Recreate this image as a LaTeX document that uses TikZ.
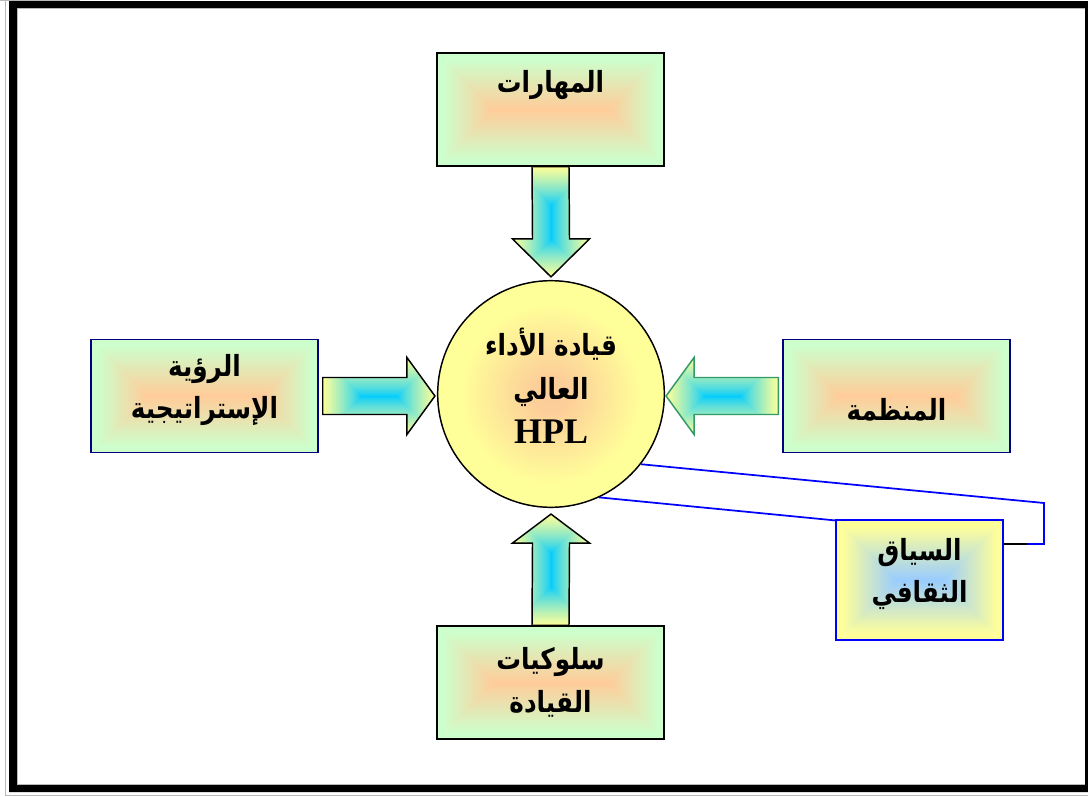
\documentclass[tikz,border=0pt]{standalone}
\usepackage{fontspec}
\usepackage{graphicx}
\usetikzlibrary{calc}
\TeXXeTstate=1
\newfontfamily\arabicfont[Script=Arabic]{DejaVu Sans}
\newfontfamily\latinserif{Liberation Serif}

% Rectangular "from centre" gradient: contours are insets of the bounding box.
% #1 name, #2/#3 half width/height relative to the smaller one,
% #4-#6 inner rgb, #7-#9 outer rgb
\newcommand\defrectshading[9]{%
  \pgfdeclarefunctionalshading{#1}{\pgfpoint{0bp}{0bp}}{\pgfpoint{100bp}{100bp}}{}{
    50 sub 25 div abs 1 exch sub #3 mul
    exch 50 sub 25 div abs 1 exch sub #2 mul
    2 copy gt {exch} if pop
    1 exch sub 0.9 div
    dup 0 lt {pop 0} if dup 1 gt {pop 1} if
    dup #7 #4 sub mul #4 add exch
    dup #8 #5 sub mul #5 add exch
    #9 #6 sub mul #6 add
  }}
% same, with a softer power ramp for the block arrows
\newcommand\defrectshadingsoft[9]{%
  \pgfdeclarefunctionalshading{#1}{\pgfpoint{0bp}{0bp}}{\pgfpoint{100bp}{100bp}}{}{
    50 sub 25 div abs 1 exch sub #3 mul
    exch 50 sub 25 div abs 1 exch sub #2 mul
    2 copy gt {exch} if pop
    1 exch sub
    dup 0 lt {pop 0} if dup 1 gt {pop 1} if 0.75 exp
    dup #7 #4 sub mul #4 add exch
    dup #8 #5 sub mul #5 add exch
    #9 #6 sub mul #6 add
  }}
\defrectshading{boxshade}{2.01}{1}{1}{0.8}{0.6}{0.8}{1}{0.8}
\defrectshading{cultshade}{1.39}{1}{0.6}{0.8}{1}{1}{1}{0.6}
\defrectshadingsoft{arrowvshade}{1}{1.45}{0}{0.8}{1}{1}{1}{0.6}
\defrectshadingsoft{arrowhshade}{1.47}{1}{0}{0.8}{1}{1}{1}{0.6}
\pgfdeclareradialshading{hubshade}{\pgfpoint{0bp}{0bp}}{%
  rgb(0bp)=(0.99,0.8,0.6); rgb(4bp)=(0.99,0.81,0.6); rgb(20bp)=(1,1,0.6); rgb(50bp)=(1,1,0.6)}

\definecolor{navyline}{HTML}{000080}
\definecolor{arrowgreen}{HTML}{339966}
\definecolor{calloutblue}{HTML}{0000FF}

% one right-to-left line of Arabic, set a little taller
\newcommand\arline[1]{\scalebox{1}[1.18]{\beginR#1\endR}}

\begin{document}
\begin{tikzpicture}[x=0.75pt,y=-0.75pt,
  box/.style={shade, shading=boxshade, draw=black, line width=1.1pt,
    minimum width=170.25pt, minimum height=84.75pt, inner sep=0pt},
  navybox/.style={box, draw=navyline},
  cultbox/.style={shade, shading=cultshade, draw=calloutblue, line width=1.3pt,
    minimum width=125.25pt, minimum height=90pt, inner sep=0pt},
  hubnode/.style={circle, shade, shading=hubshade, draw=black, line width=1.1pt,
    minimum size=170pt, inner sep=0pt},
  lbl/.style={font=\arabicfont\bfseries\fontsize{18.5}{32}\selectfont, align=center, inner sep=0pt},
  hublbl/.style={font=\arabicfont\bfseries\fontsize{18.5}{33}\selectfont, align=center, inner sep=0pt},
  arrowv/.style={shade, shading=arrowvshade, draw=black, line width=1.1pt, line join=miter},
  arrowh/.style={shade, shading=arrowhshade, draw=black, line width=1.1pt, line join=miter},
  arrowhg/.style={arrowh, draw=arrowgreen},
  blueline/.style={draw=calloutblue, line width=1.3pt}
]
\useasboundingbox (0,0) rectangle (1088,796);

% double frame
\fill[black, even odd rule] (9,1) rectangle (1096,792) (17,8) rectangle (1085,785);
\draw[gray!55, line width=0.6pt] (5.5,0) -- (5.5,795.5) -- (1088,795.5);
\draw[gray!55, line width=0.6pt] (17.5,784.5) -- (17.5,8.5) -- (1085,8.5);
\draw[gray!55, line width=0.6pt] (17.5,784.5) -- (1085,784.5);
\draw[gray!55, line width=0.6pt] (0,0.3) -- (80,0.3);

% central circle
\node[hubnode] (hub) at (551,394) {};

% surrounding boxes
\node[box] (skills) at (550.5,109.5) {};
\node[navybox] (vision) at (204.5,396) {};
\node[navybox] (org) at (896.5,396) {};
\node[box] (behav) at (550.5,682.5) {};

% block arrows into the circle
\coordinate (dA) at (skills.south);
\coordinate (dB) at ($(hub.north)+(0,-3)$);
\path[arrowv] ($(dA)+(-18.5,0)$) -- ($(dA)+(18.5,0)$) -- ($(dB)+(18.5,-38)$)
  -- ($(dB)+(38.5,-38)$) -- (dB) -- ($(dB)+(-38.5,-38)$) -- ($(dB)+(-18.5,-38)$) -- cycle;

\coordinate (uA) at (behav.north);
\coordinate (uB) at ($(hub.south)+(0,6)$);
\path[arrowv] ($(uA)+(-18.5,0)$) -- ($(uA)+(18.5,0)$) -- ($(uB)+(18.5,29)$)
  -- ($(uB)+(38.5,29)$) -- (uB) -- ($(uB)+(-38.5,29)$) -- ($(uB)+(-18.5,29)$) -- cycle;

\coordinate (rA) at ($(vision.east)+(4,0)$);
\coordinate (rB) at ($(hub.west |- rA)+(-2,0)$);
\path[arrowh] ($(rA)+(0,-18.5)$) -- ($(rB)+(-28,-18.5)$) -- ($(rB)+(-28,-38.5)$)
  -- (rB) -- ($(rB)+(-28,38.5)$) -- ($(rB)+(-28,18.5)$) -- ($(rA)+(0,18.5)$) -- cycle;

\coordinate (lA) at ($(org.west)+(-4,0)$);
\coordinate (lB) at ($(hub.east |- lA)+(1,0)$);
\path[arrowhg] ($(lA)+(0,-18.5)$) -- ($(lB)+(28,-18.5)$) -- ($(lB)+(28,-38.5)$)
  -- (lB) -- ($(lB)+(28,38.5)$) -- ($(lB)+(28,18.5)$) -- ($(lA)+(0,18.5)$) -- cycle;

% callout from the cultural context box
\coordinate (k1) at (1044,503);
\coordinate (k2) at (1044,544);
\coordinate (k3) at (1027,544);
\draw[blueline] (hub.-38.6) -- (k1) -- (k2) -- (k3);
\draw[blueline] (hub.-65.7) -- (836,520.5);
\node[cultbox] (culture) at (919.5,580) {};
\draw[black, line width=1pt] (k3) -- (culture.east |- k3);

% labels
\node[hublbl] (hubT) at ($(hub)+(0,-8)$)
  {\arline{قيادة الأداء}\\ \arline{العالي}\\ {\latinserif\bfseries\fontsize{27}{33}\selectfont HPL}};
\node[lbl] (skillsT) at ($(skills)+(0,-24)$) {\arline{المهارات}};
\node[lbl] (visionT) at ($(vision)+(0,-6)$) {\arline{الرؤية}\\ \arline{الإستراتيجية}};
\node[lbl] (orgT) at ($(org)+(0,14)$) {\arline{المنظمة}};
\node[lbl] (behavT) at ($(behav)+(0,0)$) {\arline{سلوكيات}\\ \arline{القيادة}};
\node[lbl] (cultureT) at ($(culture)+(0,-6)$) {\arline{السياق}\\ \arline{الثقافي}};
\end{tikzpicture}
\end{document}
